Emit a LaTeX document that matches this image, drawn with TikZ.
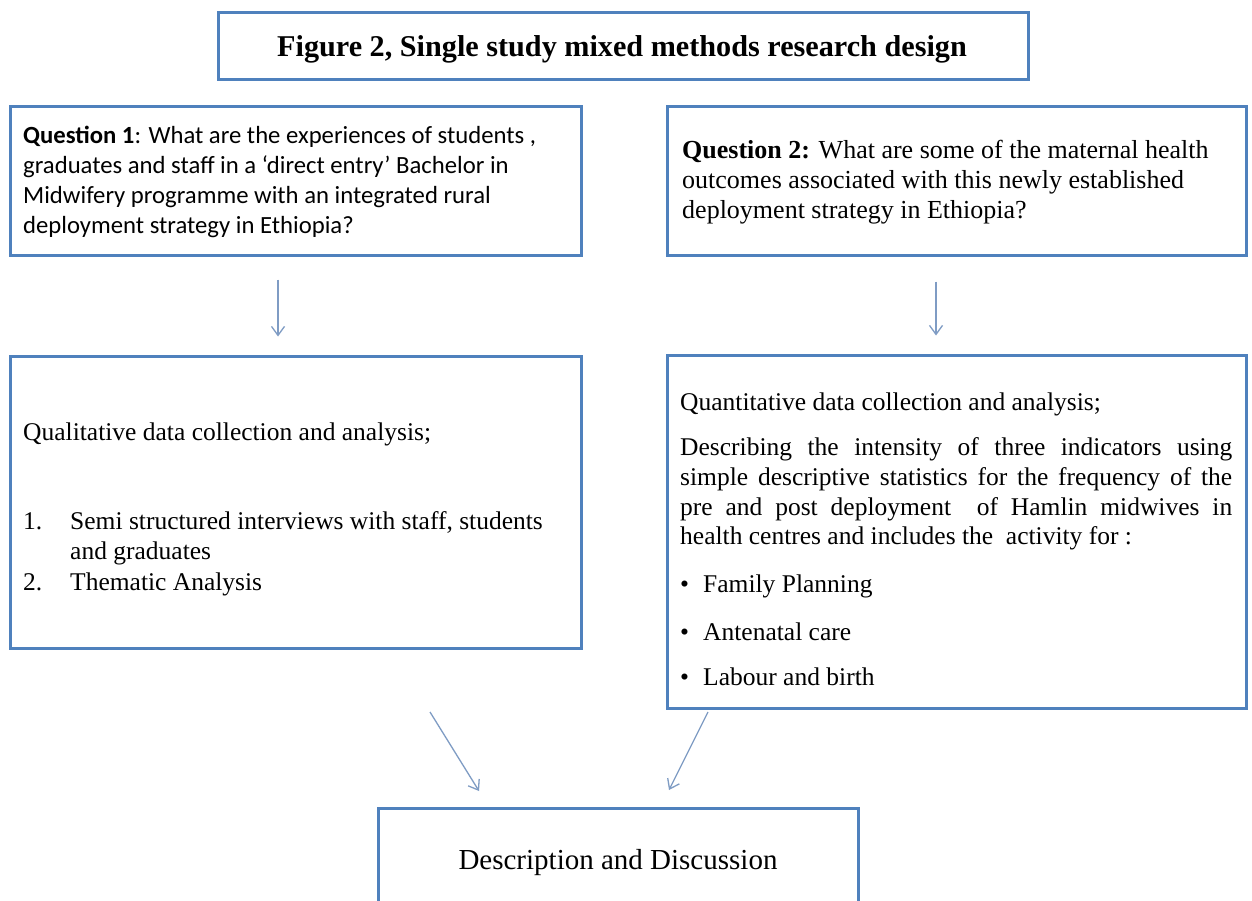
\documentclass[tikz,border=0pt]{standalone}
\usepackage{fontspec}
\setmainfont{Liberation Serif}
\newfontfamily\calfont{Carlito}
\usetikzlibrary{arrows.meta}
\definecolor{boxblue}{HTML}{4F81BD}
\definecolor{arrowblue}{HTML}{7F9CC4}
\begin{document}
\begin{tikzpicture}[x=1pt,y=-1pt,
  box/.style={draw=boxblue, line width=3pt, fill=white, inner sep=0pt},
  txt/.style={anchor=base west, inner sep=0pt, font=\fontsize{25.5}{30}\selectfont},
  caltxt/.style={anchor=base west, inner sep=0pt, font=\calfont\fontsize{24.7}{30}\selectfont},
  qtwo/.style={anchor=base west, inner sep=0pt, font=\fontsize{26}{30}\selectfont},
  arr/.style={draw=arrowblue, line width=1.3pt, -{Straight Barb[length=9pt,width=13pt]}}]
\useasboundingbox (0,0) rectangle (1252,901);
\clip (0,0) rectangle (1252,901);
\fill[white] (0,0) rectangle (1252,901);
% boxes
\node[box, minimum width=810pt, minimum height=67pt] (title) at (623,46.5) {};
\node[box, minimum width=571pt, minimum height=149pt] (q1) at (295.5,181.5) {};
\node[box, minimum width=579pt, minimum height=149pt] (q2) at (956.5,181.5) {};
\node[box, minimum width=571pt, minimum height=292pt] (qual) at (295.5,502) {};
\node[box, minimum width=579pt, minimum height=353pt] (quant) at (956.5,531.5) {};
\node[box, minimum width=480pt, minimum height=152pt] (desc) at (618,884) {};
% title
\node[anchor=base, inner sep=0pt, font=\bfseries\fontsize{30.2}{34}\selectfont] (titletxt) at (622,57) {Figure 2, Single study mixed methods research design};
% question 1
\node[caltxt] (q1a) at (23,144) {\textbf{Question 1}: What are the experiences of students ,};
\node[caltxt] (q1b) at (23,174) {graduates and staff in a ‘direct entry’ Bachelor in};
\node[caltxt] (q1c) at (23,204) {Midwifery programme with an integrated rural};
\node[caltxt] (q1d) at (23,234) {deployment strategy in Ethiopia?};
% question 2
\node[qtwo] (q2a) at (682,159) {\textbf{Question 2:} What are some of the maternal health};
\node[qtwo] (q2b) at (682,189) {outcomes associated with this newly established};
\node[qtwo] (q2c) at (682,219) {deployment strategy in Ethiopia?};
% qualitative
\node[txt] (qla) at (23,440) {Qualitative data collection and analysis;};
\node[txt] (qlb1) at (23,529) {1.};
\node[txt] (qlb2) at (70,529) {Semi structured interviews with staff, students};
\node[txt] (qlc) at (70,559) {and graduates};
\node[txt] (qld1) at (23,590) {2.};
\node[txt] (qld2) at (70,590) {Thematic Analysis};
% quantitative
\node[txt] (qna) at (680,410) {Quantitative data collection and analysis;};
\node[txt] (qnb) at (680,455) {\makebox[552pt][s]{Describing the intensity of three indicators using}};
\node[txt] (qnc) at (680,485) {\makebox[552pt][s]{simple descriptive statistics for the frequency of the}};
\node[txt] (qnd) at (680,515) {\makebox[552pt][s]{pre and post deployment \ of Hamlin midwives in}};
\node[txt] (qne) at (680,544) {health centres and includes the \ activity for :};
\node[txt] (qnf1) at (680,592) {•};
\node[txt] (qnf2) at (703,592) {Family Planning};
\node[txt] (qng1) at (680,640) {•};
\node[txt] (qng2) at (703,640) {Antenatal care};
\node[txt] (qnh1) at (680,685) {•};
\node[txt] (qnh2) at (703,685) {Labour and birth};
% description
\node[anchor=base, inner sep=0pt, font=\fontsize{29}{34}\selectfont] (desctxt) at (618,869) {Description and Discussion};
% arrows
\coordinate (a1) at (278,0);
\coordinate (a2) at (936,0);
\draw[arr, shorten <=22pt, shorten >=18pt] (q1.south -| a1) -- (qual.north -| a1);
\draw[arr, shorten <=24pt, shorten >=18pt] (q2.south -| a2) -- (quant.north -| a2);
\coordinate (d1s) at (430,712);
\coordinate (d1e) at (479,791);
\coordinate (d2s) at (708,712);
\coordinate (d2e) at (669,790);
\draw[arr] (d1s) -- (d1e);
\draw[arr] (d2s) -- (d2e);
\end{tikzpicture}
\end{document}
